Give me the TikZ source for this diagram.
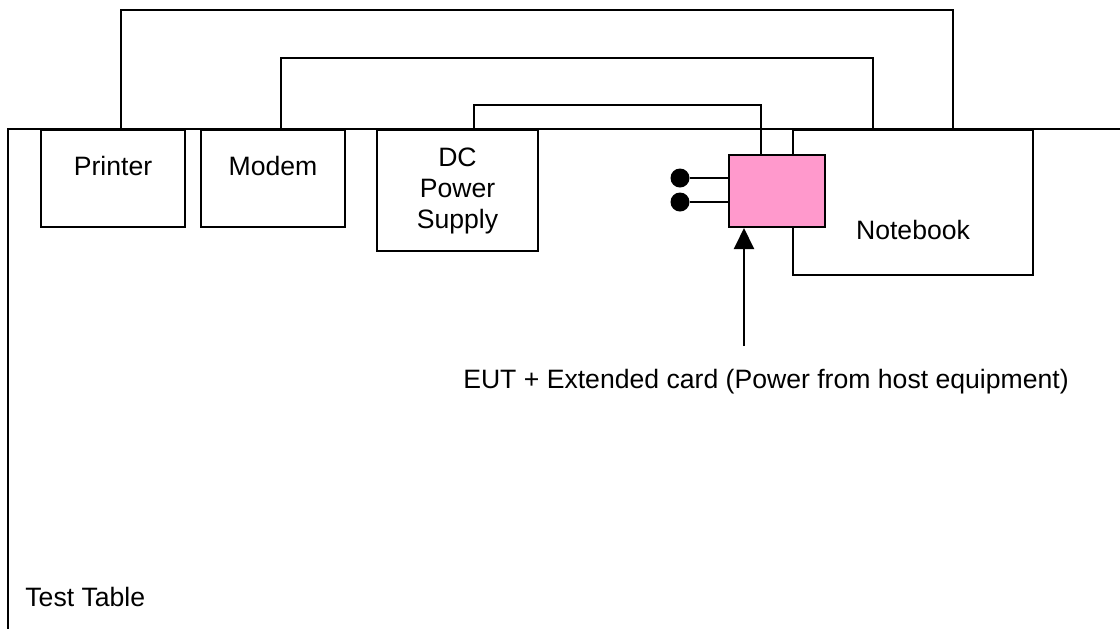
\documentclass[tikz,border=0pt]{standalone}
\usepackage{fontspec}
\setmainfont{Liberation Sans}
\usepackage{tikz}
\usetikzlibrary{arrows.meta,positioning,calc}
\definecolor{eutpink}{HTML}{FF99CC}
\tikzset{
  unit/.style={draw, line width=1pt, anchor=north west, align=center, inner sep=0pt},
  eutbox/.style={draw, line width=1pt, fill=eutpink, anchor=north west, inner sep=0pt, minimum width=48pt, minimum height=36pt},
  cable/.style={line width=1pt},
  jack/.style={circle, fill=black, inner sep=0pt, minimum size=9.5pt},
  pointer/.style={-{Triangle[length=10.5pt, width=10pt]}, line width=1pt},
  lbl/.style={font=\fontsize{13.3}{15.5}\selectfont, align=center}
}

\begin{document}
\begin{tikzpicture}[x=0.5pt, y=-0.5pt, every node/.append style={font=\fontsize{13.3}{15.5}\selectfont}]
  \useasboundingbox (0,0) rectangle (1120,629);
  % test table
  \draw[cable] (1120,129) -- (8,129) -- (8,629);
  \node[lbl, anchor=west, inner sep=0pt] (table) at (25,597) {Test Table};
  % equipment on the table
  \node[unit, minimum width=72pt, minimum height=48.5pt, label={[lbl, yshift=6.25pt]center:Printer}] (printer) at (40,129) {};
  \node[unit, minimum width=72pt, minimum height=48.5pt, label={[lbl, yshift=6.25pt]center:Modem}] (modem) at (200,129) {};
  \node[unit, minimum width=80.5pt, minimum height=60.5pt] (dc) at (376,129) {DC\\Power\\Supply};
  \node[unit, minimum width=120pt, minimum height=72.5pt, label={[lbl, yshift=-13.75pt]center:Notebook}] (notebook) at (792,129) {};
  \node[eutbox] (eut) at (728,154) {};
  % cables
  \draw[cable] ([xshift=4pt]printer.north) -- ++(0,-119) -| ([xshift=20pt]notebook.north);
  \draw[cable] ([xshift=4pt]modem.north) -- ++(0,-71) -| ([xshift=-20pt]notebook.north);
  \draw[cable] ([xshift=8pt]dc.north) -- ++(0,-24) -| ([xshift=-8pt]eut.north);
  % ports
  \node[jack] (j1) at (680,178) {};
  \node[jack] (j2) at (680,202) {};
  \draw[cable] (j1) -- (j1 -| eut.west);
  \draw[cable] (j2) -- (j2 -| eut.west);
  % callout
  \node[lbl] (eutlbl) at (766,382) {EUT + Extended card (Power from host equipment)};
  \coordinate (tail) at (744,346);
  \draw[pointer] (tail) -- (tail |- eut.south);
\end{tikzpicture}
\end{document}
